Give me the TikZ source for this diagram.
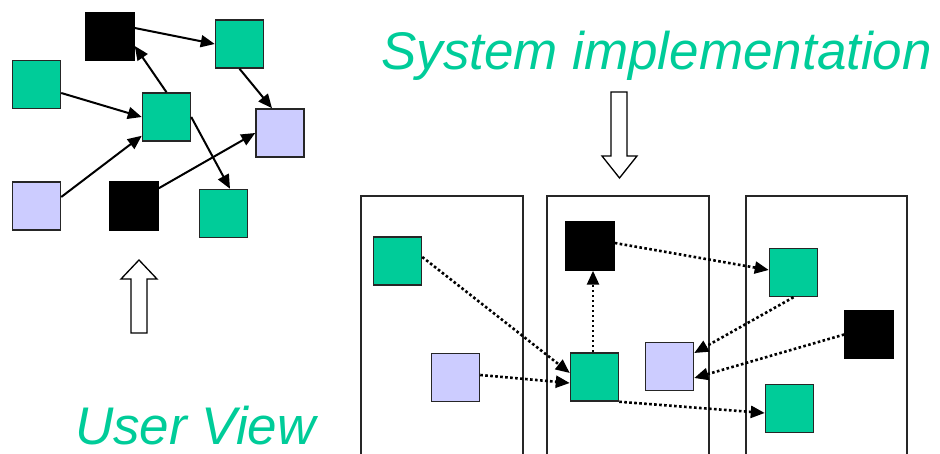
\documentclass[tikz,border=0pt]{standalone}
\usepackage{fontspec}
\setmainfont{Liberation Sans}
\usetikzlibrary{arrows.meta,calc}
\definecolor{tealgreen}{RGB}{0,204,153}
\definecolor{lavender}{RGB}{204,204,255}
\tikzset{
  sq/.style={draw=black!85, line width=1.5pt, minimum size=48pt, inner sep=0pt},
  gsq/.style={sq, fill=tealgreen},
  lsq/.style={sq, fill=lavender},
  bsq/.style={sq, fill=black, draw=black},
  link/.style={line width=2pt, -{Triangle[length=14pt,width=12pt]}},
  dlink/.style={line width=2.6pt, dash pattern=on 2.6pt off 2.4pt, -{Triangle[length=14pt,width=12pt]}},
  part/.style={line width=1.5pt, draw=black!85},
  blockarrow/.style={draw=black, line width=1.3pt, fill=white},
  caption/.style={text=tealgreen, font=\fontsize{53}{60}\selectfont\itshape, inner sep=0pt, anchor=base west}
}
\begin{document}
\begin{tikzpicture}[x=1pt,y=-1pt]
\useasboundingbox (0,0) rectangle (940,454);

% ---- user view: the application as a graph of components ----
\node[bsq] (ublk1) at (110,36.5) {};
\node[gsq] (ugrn1) at (239.5,44) {};
\node[gsq] (ugrn2) at (36.5,84.5) {};
\node[gsq] (ugrn3) at (166.5,117) {};
\node[lsq] (ulav1) at (280,133) {};
\node[lsq] (ulav2) at (36.5,206) {};
\node[bsq] (ublk2) at (134,206) {};
\node[gsq] (ugrn4) at (223.5,213.5) {};

\draw[link] ($(ublk1.east)+(0,-8.5)$) -- (ugrn1.west);
\draw[link] (ugrn3.north) -- ($(ublk1.east)+(0,9.5)$);
\draw[link] ($(ugrn2.east)+(0,8.5)$) -- (ugrn3.west);
\draw[link] ($(ulav2.east)+(0,-9)$) -- ($(ugrn3.south west)+(0,-6)$);
\draw[link] (ugrn1.south) -- ($(ulav1.north)+(-8,0)$);
\draw[link] (ugrn3.east) -- ($(ugrn4.north)+(6.5,0)$);
\draw[link] ($(ublk2.north east)+(0,7)$) -- (ulav1.west);

% up block arrow
\draw[blockarrow] (131,333) -- (131,279) -- (121,279) -- (139,260) -- (157,279)
  -- (147,279) -- (147,333) -- cycle;

\node[caption] (userview) at (75,444) {User View};

% ---- system implementation: components spread over three parts ----
\draw[part] (361,454) -- (361,196) -- (523,196) -- (523,454);
\draw[part] (547,454) -- (547,196) -- (709,196) -- (709,454);
\draw[part] (746,454) -- (746,196) -- (907,196) -- (907,454);

\node[gsq] (sgrnA) at (397.5,261) {};
\node[lsq] (slavA) at (455.5,377.5) {};
\node[bsq] (sblkB) at (590,246) {};
\node[gsq] (sgrnB) at (594.5,377) {};
\node[lsq] (slavB) at (669.5,366.5) {};
\node[gsq] (sgrnC) at (793.5,272.5) {};
\node[bsq] (sblkC) at (869,334.5) {};
\node[gsq] (sgrnD) at (789.5,408.5) {};

\draw[dlink] ($(sgrnA.east)+(0,-4)$) -- ($(sgrnB.west)+(0,-4)$);
\draw[dlink] ($(slavA.east)+(0,-2.5)$) -- ($(sgrnB.west)+(0,6)$);
\draw[dlink] ($(sgrnB.north)+(-1.5,0)$) -- ($(sblkB.south)+(3,0)$);
\draw[dlink] ($(sblkB.east)+(0,-3)$) -- ($(sgrnC.west)+(0,-2.5)$);
\draw[dlink] (sgrnB.south east) -- ($(sgrnD.west)+(0,4.5)$);
\draw[dlink] (sgrnC.south) -- ($(slavB.east)+(0,-13.5)$);
\draw[dlink] (sblkC.west) -- ($(slavB.east)+(0,11.5)$);

% down block arrow
\draw[blockarrow] (611,92) -- (627,92) -- (627,156) -- (637,156) -- (619.5,178)
  -- (602,156) -- (611,156) -- cycle;

\node[caption] (sysimpl) at (381,70) {System implementation};
\end{tikzpicture}
\end{document}
